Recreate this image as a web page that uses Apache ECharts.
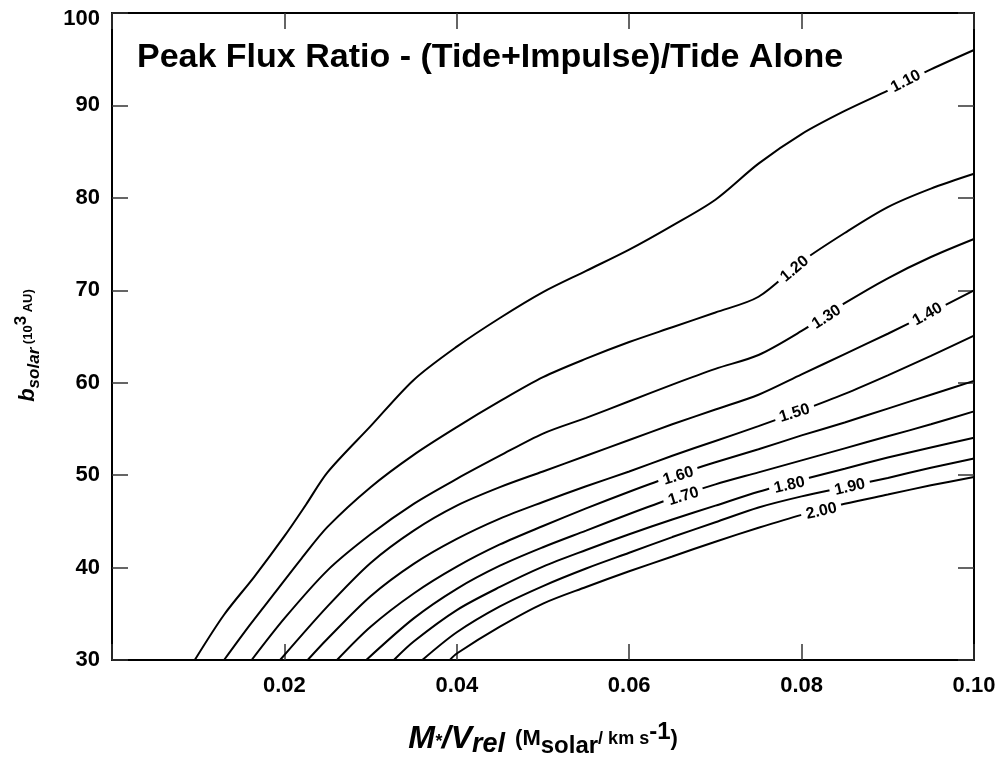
<!DOCTYPE html>
<html><head><meta charset="utf-8">
<script src="https://cdn.jsdelivr.net/npm/echarts@6/dist/echarts.min.js"></script>
<style>html,body{margin:0;padding:0;background:#fff}#c{width:1006px;height:767px}</style>
</head><body><div id="c"></div>
<script>
// ---- data ----
const levels = ['1.10','1.20','1.30','1.40','1.50','1.60','1.70','1.80','1.90','2.00'];
const c110 = [[0.0096,30],[0.013,34.9],[0.0165,39.0],[0.02,43.4],[0.0225,46.8],[0.025,50.3],[0.03,55.3],[0.035,60.3],[0.04,63.9],[0.045,67.0],[0.05,69.8],[0.055,72.1],[0.06,74.4],[0.065,77.0],[0.07,79.8],[0.075,83.7],[0.08,86.9],[0.085,89.4],[0.09,91.6],[0.095,93.9],[0.1,96.0]];
const c120 = [[0.013,30],[0.016,33.8],[0.019,37.4],[0.022,41.0],[0.025,44.4],[0.03,48.7],[0.035,52.2],[0.04,55.2],[0.045,58.0],[0.05,60.6],[0.055,62.6],[0.06,64.4],[0.065,66.0],[0.07,67.6],[0.075,69.3],[0.08,73.1],[0.085,76.2],[0.09,79.0],[0.095,81.0],[0.1,82.6]];
const c130 = [[0.0162,30],[0.02,34.5],[0.025,39.7],[0.03,43.6],[0.035,46.9],[0.04,49.6],[0.045,52.1],[0.05,54.5],[0.055,56.2],[0.06,58.0],[0.065,59.8],[0.07,61.5],[0.075,63.0],[0.08,65.6],[0.085,68.6],[0.09,71.3],[0.095,73.6],[0.1,75.55]];
const c140 = [[0.0195,30],[0.025,35.8],[0.03,40.5],[0.035,44.0],[0.04,46.7],[0.045,48.7],[0.05,50.4],[0.055,52.1],[0.06,53.8],[0.065,55.5],[0.07,57.1],[0.075,58.7],[0.08,60.9],[0.085,63.1],[0.09,65.3],[0.095,67.6],[0.1,70.0]];
const c150 = [[0.0227,30],[0.025,32.3],[0.03,36.9],[0.035,40.4],[0.04,43.1],[0.045,45.3],[0.05,47.1],[0.055,48.8],[0.06,50.4],[0.065,52.1],[0.07,53.7],[0.075,55.3],[0.08,57.0],[0.085,58.8],[0.09,60.8],[0.095,62.9],[0.1,65.1]];
const c160 = [[0.0261,30],[0.03,33.6],[0.035,37.2],[0.04,40.1],[0.045,42.5],[0.05,44.5],[0.055,46.4],[0.06,48.2],[0.065,49.9],[0.07,51.4],[0.075,52.8],[0.08,54.3],[0.085,55.7],[0.09,57.2],[0.095,58.7],[0.1,60.2]];
const c170 = [[0.0295,30],[0.035,34.5],[0.04,37.7],[0.045,40.2],[0.05,42.2],[0.055,44.0],[0.06,45.8],[0.065,47.5],[0.07,49.0],[0.075,50.3],[0.08,51.6],[0.085,52.9],[0.09,54.2],[0.095,55.5],[0.1,56.9]];
const c180 = [[0.0327,30],[0.035,32.0],[0.04,35.4],[0.045,37.9],[0.05,40.1],[0.055,41.9],[0.06,43.6],[0.065,45.2],[0.07,46.7],[0.075,48.2],[0.08,49.5],[0.085,50.7],[0.09,51.9],[0.095,53.0],[0.1,54.05]];
const c190 = [[0.036,30],[0.04,33.0],[0.045,35.8],[0.05,38.0],[0.055,39.9],[0.06,41.6],[0.065,43.3],[0.07,44.9],[0.075,46.5],[0.08,47.7],[0.085,48.7],[0.09,49.7],[0.095,50.8],[0.1,51.8]];
const c200 = [[0.0392,30],[0.04,30.7],[0.045,33.6],[0.05,36.1],[0.055,37.9],[0.06,39.6],[0.065,41.2],[0.07,42.8],[0.075,44.3],[0.08,45.7],[0.085,46.9],[0.09,47.9],[0.095,48.9],[0.1,49.8]];
const contours = [c110,c120,c130,c140,c150,c160,c170,c180,c190,c200];
// contour label anchors (data units) and their rotation
const labelX = [0.0921,0.0792,0.0829,0.0946,0.0792,0.0657,0.0663,0.0786,0.0856,0.0823];
const labelY = [92.6,72.3,67.1,67.4,56.7,49.9,47.7,48.9,48.7,46.1];
const labelAngle = [27,40,33,29,17,17,17,13,13,13];
const xTickLabels = ['', '0.02', '0.04', '0.06', '0.08', '0.10'];
const yTickLabels = ['30','40','50','60','70','80','90','100'];

// ---- chart ----
const FF = '"Liberation Sans", Arial, sans-serif';
const chart = echarts.init(document.getElementById('c'), null, {renderer:'canvas'});
const lineSeries = contours.map((d, i) => ({
  type: 'line', name: levels[i], data: d, showSymbol: false, symbol: 'none',
  smooth: 0.3,
  lineStyle: {color: '#000', width: 2}, z: 2, silent: true, animation: false
}));
const labelSeries = {
  type: 'custom', z: 5, silent: true, animation: false,
  data: levels.map((t, i) => [labelX[i], labelY[i]]),
  renderItem: (params, api) => {
    const i = params.dataIndex;
    const p = api.coord([api.value(0), api.value(1)]);
    return {
      type: 'text', x: p[0], y: p[1], rotation: labelAngle[i] * Math.PI / 180,
      style: {
        text: levels[i], fill: '#000', font: 'bold 16px ' + FF,
        align: 'center', verticalAlign: 'middle',
        backgroundColor: '#fff', padding: [1, 5]
      }
    };
  }
};
const tickStyle = {show: true, inside: true, length: 16, lineStyle: {color: '#333', width: 1.5}};
const lineStyleAx = {show: true, onZero: false, lineStyle: {color: '#000', width: 2}};
chart.setOption({
  animation: false,
  backgroundColor: '#fff',
  title: {
    text: 'Peak Flux Ratio - (Tide+Impulse)/Tide Alone', left: 132, top: 36,
    textStyle: {fontSize: 34, fontWeight: 'bold', fontFamily: FF, color: '#000'}
  },
  grid: {left: 112, right: 32, top: 13, bottom: 107, containLabel: false, outerBoundsMode: 'none'},
  xAxis: [{
    type: 'value', min: 0, max: 0.1, interval: 0.02, position: 'bottom',
    axisLine: lineStyleAx, axisTick: tickStyle, splitLine: {show: false},
    axisLabel: {margin: 15, fontSize: 22, fontWeight: 'bold', fontFamily: FF, color: '#000',
      formatter: (v) => xTickLabels[Math.round(v / 0.02)]},
    name: '{m|M}{st|*}{m|/V}{sub|rel}{sp|  }{n|(M}{sub2|solar}{s|/ km s}{sup|-1}{n|)}',
    nameLocation: 'middle', nameGap: 60,
    nameTextStyle: {
      color: '#000', fontFamily: FF,
      rich: {
        m: {fontSize: 32, fontWeight: 'bold', fontStyle: 'italic', fontFamily: FF, lineHeight: 38, verticalAlign: 'middle'},
        st: {fontSize: 18, fontWeight: 'bold', fontStyle: 'italic', fontFamily: FF, lineHeight: 18, verticalAlign: 'bottom', padding: [0, 0, 7, 0]},
        sub: {fontSize: 27, fontWeight: 'bold', fontStyle: 'italic', fontFamily: FF, lineHeight: 24, verticalAlign: 'bottom'},
        sp: {fontSize: 18},
        n: {fontSize: 22, fontWeight: 'bold', fontFamily: FF, lineHeight: 32, verticalAlign: 'middle'},
        sub2: {fontSize: 24, fontWeight: 'bold', fontFamily: FF, lineHeight: 24, verticalAlign: 'bottom'},
        s: {fontSize: 18, fontWeight: 'bold', fontFamily: FF, lineHeight: 36, verticalAlign: 'middle'},
        sup: {fontSize: 24, fontWeight: 'bold', fontFamily: FF, lineHeight: 22, verticalAlign: 'top'}
      }
    }
  }, {
    type: 'value', min: 0, max: 0.1, interval: 0.02, position: 'top',
    axisLine: lineStyleAx, axisTick: tickStyle, axisLabel: {show: false}, splitLine: {show: false}
  }],
  yAxis: [{
    type: 'value', min: 30, max: 100, interval: 10, position: 'left',
    axisLine: lineStyleAx, axisTick: tickStyle, splitLine: {show: false},
    axisLabel: {margin: 12, fontSize: 22, fontWeight: 'bold', fontFamily: FF, color: '#000',
      formatter: (v) => v === 100 ? '{t|100}' : yTickLabels[Math.round((v - 30) / 10)],
      rich: {t: {fontSize: 22, fontWeight: 'bold', fontFamily: FF, color: '#000', padding: [11, 0, 0, 0]}}},
    name: '{b|b}{sub|solar}{n| (10}{sup|3}{e| AU)}',
    nameLocation: 'middle', nameRotate: 90, nameGap: 69,
    nameTextStyle: {
      color: '#000', fontFamily: FF,
      rich: {
        b: {fontSize: 22, fontWeight: 'bold', fontStyle: 'italic', fontFamily: FF, lineHeight: 30, verticalAlign: 'middle'},
        sub: {fontSize: 17, fontWeight: 'bold', fontStyle: 'italic', fontFamily: FF, lineHeight: 18, verticalAlign: 'bottom'},
        n: {fontSize: 13, fontWeight: 'bold', fontFamily: FF, lineHeight: 24, verticalAlign: 'middle'},
        sup: {fontSize: 17, fontWeight: 'bold', fontFamily: FF, lineHeight: 18, verticalAlign: 'top'},
        e: {fontSize: 13, fontWeight: 'bold', fontFamily: FF, lineHeight: 24, verticalAlign: 'middle', padding: [0, 18, 0, 0]}
      }
    }
  }, {
    type: 'value', min: 30, max: 100, interval: 10, position: 'right',
    axisLine: lineStyleAx, axisTick: tickStyle, axisLabel: {show: false}, splitLine: {show: false}
  }],
  series: lineSeries.concat([labelSeries])
});
</script>
</body></html>
